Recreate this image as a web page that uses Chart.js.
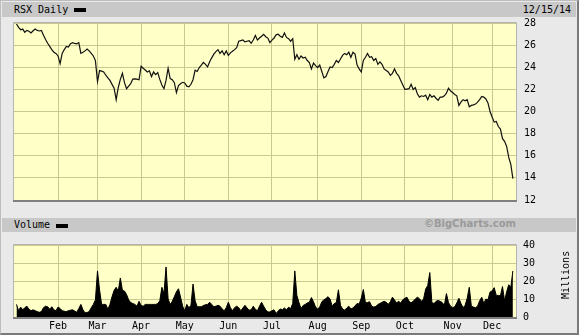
<!DOCTYPE html>
<html><head><meta charset="utf-8">
<script src="https://cdn.jsdelivr.net/npm/chart.js@4.4.1/dist/chart.umd.min.js"></script>
<style>
html,body{margin:0;padding:0;background:#e9e9e9;width:579px;height:335px;overflow:hidden;}
#frame{position:absolute;left:0;top:0;width:579px;height:335px;box-sizing:border-box;border-top:1px solid #bdbdbd;border-left:1px solid #bdbdbd;border-right:2px solid #7a7a7a;border-bottom:2px solid #7a7a7a;background:#e9e9e9;}
.band{position:absolute;left:2px;width:574px;background:#c8c8c8;}
.txt{position:absolute;font:10px "DejaVu Sans Mono",monospace;color:#000;white-space:nowrap;}
.sw{position:absolute;width:12px;height:4px;background:#000;}
canvas{position:absolute;left:0;}
</style></head>
<body>
<div id="frame"></div>
<div class="band" style="top:2px;height:15px;"></div>
<div class="band" style="top:218px;height:14px;"></div>
<div class="txt" style="left:14px;top:2px;line-height:15px;">RSX Daily</div>
<div class="sw" style="left:74px;top:8px;"></div>
<div class="txt" style="right:8px;top:2px;line-height:15px;">12/15/14</div>
<div class="txt" style="left:14px;top:218px;line-height:14px;">Volume</div>
<div class="sw" style="left:56px;top:224px;"></div>
<div style="position:absolute;right:63px;top:218px;line-height:14px;font:bold 10px 'DejaVu Sans',sans-serif;color:#9a9a9a;">©BigCharts.com</div>
<canvas id="pc" width="579" height="214" style="top:0;"></canvas>
<canvas id="vc" width="579" height="103" style="top:232px;"></canvas>
<div class="txt" style="left:542px;top:269px;width:48px;text-align:center;line-height:12px;transform:rotate(-90deg);transform-origin:24px 6px;">Millions</div>
<script>
// ---- data ----
const monthLabels = ['Jan','Feb','Mar','Apr','May','Jun','Jul','Aug','Sep','Oct','Nov','Dec'];
const monthStartIndex = [0,20,39,60,81,102,123,145,166,187,210,229];
const priceTicks = [12,14,16,18,20,22,24,26,28];
const volumeTicks = [0,10,20,30,40];
const priceClose = [
27.91,27.6,27.39,27.45,27.16,27.33,27.25,27.10,27.3,27.45,
27.33,27.28,27.33,26.9,26.5,26.17,25.89,25.6,25.36,25.25,
25.02,24.32,25.25,25.6,25.89,25.83,26.12,26.23,26.15,26.12,
26.23,25.25,25.35,25.48,25.65,25.48,25.25,25.02,24.6,22.70,
23.7,23.65,23.57,23.28,23.05,22.81,22.45,22.11,21.07,22.17,
22.9,23.45,22.61,22.06,22.29,22.52,22.93,22.95,22.93,22.87,
24.09,23.91,23.75,23.57,23.68,23.16,23.57,23.33,23.51,22.9,
22.4,22.06,22.81,23.91,22.98,22.87,22.6,21.71,22.35,22.5,
22.64,22.58,22.29,22.23,22.46,22.87,23.74,23.62,23.97,24.2,
24.43,24.26,24.03,24.49,24.85,25.19,25.42,25.59,25.25,25.48,
25.13,25.48,25.07,25.30,25.45,25.59,25.77,26.35,26.41,26.46,
26.29,26.35,26.41,26.17,26.46,26.87,26.46,26.64,26.8,26.98,
26.76,26.64,26.23,26.45,26.64,26.93,26.98,26.8,26.70,27.10,
26.70,26.58,26.35,26.58,24.72,25.13,24.72,25.02,24.84,24.90,
24.61,24.43,23.85,24.38,24.15,23.97,24.20,23.62,23.04,23.16,
23.62,24.03,23.97,24.26,24.61,24.43,24.75,25.07,25.25,25.13,
25.36,24.90,25.36,25.19,24.20,23.85,23.57,24.61,24.90,25.25,
24.90,24.96,24.61,24.78,24.26,24.49,24.26,23.85,23.7,23.57,
23.28,23.45,23.85,23.45,23.22,22.8,22.4,22.0,22.03,22.06,
22.46,22.00,22.17,21.6,21.30,21.42,21.36,21.48,21.07,21.54,
21.30,21.42,21.2,21.01,21.30,21.30,21.42,21.65,22.11,21.85,
21.71,21.54,21.42,20.55,20.84,21.07,20.96,21.07,20.43,20.55,
20.6,20.67,20.84,21.07,21.36,21.3,21.13,20.78,20.0,19.5,
19.04,19.10,18.64,18.41,17.54,17.30,16.84,15.85,15.22,13.94];
const volumeMillions = [
7,3.5,5.5,4,5.2,6,4.3,3.5,4,3.5,
3,2.6,3,5.2,6,5.7,4.3,5.7,4,3.5,
5.5,4.7,3.5,3.2,3,3.5,3.8,4,3.3,2.6,
4.7,7,4,2.3,2.5,3,5.2,7,9.5,25.6,
15,7,7,7,4.3,7,11.3,14.8,16.5,14.4,
21.7,14.8,14.4,12.5,9.5,8,7.5,7,6,8.7,
6.4,6,7,7,7,7,7,7,7.5,9,
16.5,13,27.8,10,7,8.7,11.3,14,15.7,11,
6,3.5,7,5.2,6.5,18.3,9,5.7,5.7,5.7,
6.4,6.8,7,8.2,7,5.7,6,6.5,6,4.5,
3.5,5.2,8.2,5.2,3.5,5.2,6,5.2,3.5,5,
6.5,5,3.8,4,6,4.3,3.5,6,8.2,6,
4,2.8,2.8,3.5,4,2,3.3,4.5,4,5,
4,5.4,4.7,7.5,25.6,12,8,4.7,6.4,7,
7.8,8.2,10.8,8.5,5.5,4.5,5.5,8.5,9.5,10.3,
11.3,9.9,6,7.5,8,15.1,6.5,4.5,3.8,5,
6,4.5,5,6.2,7.5,7.2,10.5,15.3,8,8,
8.5,6,5.5,5.8,7,7.5,8.2,8.7,8.2,7,
8.5,11,9.5,7.8,8.7,7.8,9.6,10.4,11,8.7,
7.9,8.7,10,11,10.2,8.7,10,15.5,17.5,24.7,
8,7.5,8.7,9.2,8.7,8,6.5,13,8,6,
5.2,5.7,7.8,10.4,7.5,5.2,6.5,10.4,16.5,6,
5.5,5.2,6,9,11,7.5,10,9.5,13.9,14.5,
16.3,12,12,11.8,16.9,9,14,17.9,16.5,25.6];

// ---- style ----
const GRID = '#c9c98f';
const BG = '#ffffc8';
const X_MIN = -1.2, X_MAX = 240.5;
Chart.defaults.font.family = "'DejaVu Sans Mono', monospace";
Chart.defaults.font.size = 10;
Chart.defaults.color = '#000';

const areaPlugin = {
  id:'area',
  beforeDraw(c){
    const a=c.chartArea, g=c.ctx;
    g.save(); g.fillStyle=BG; g.fillRect(a.left,a.top,a.right-a.left,a.bottom-a.top); g.restore();
  },
  afterDraw(c){
    const a=c.chartArea, g=c.ctx;
    g.save();
    g.strokeStyle='#b4b4b4'; g.lineWidth=1;
    g.beginPath();
    g.moveTo(a.left-0.5,a.bottom); g.lineTo(a.left-0.5,a.top-0.5); g.lineTo(a.right+0.5,a.top-0.5); g.lineTo(a.right+0.5,a.bottom);
    g.stroke();
    g.strokeStyle='#7f7f7f'; g.lineWidth=2;
    g.beginPath(); g.moveTo(a.left-1,a.bottom+1); g.lineTo(a.right+1,a.bottom+1); g.stroke();
    g.restore();
  }
};

const xPts = arr => arr.map((v,i)=>({x:i,y:v}));
const monthTicks = s => { s.ticks = monthStartIndex.slice(1).map(v=>({value:v})); };

new Chart(document.getElementById('pc'),{
  type:'line',
  data:{datasets:[{data:xPts(priceClose),borderColor:'#111',borderWidth:1.2,pointRadius:0,tension:0,fill:false}]},
  options:{
    responsive:false,animation:false,events:[],devicePixelRatio:1,
    layout:{padding:{left:14,top:23,right:0,bottom:7}},
    plugins:{legend:{display:false},tooltip:{enabled:false}},
    scales:{
      x:{type:'linear',min:X_MIN,max:X_MAX,afterBuildTicks:monthTicks,afterFit:s=>{s.height=0;},
         ticks:{display:false},grid:{color:GRID,drawTicks:false},border:{display:false}},
      y:{position:'right',min:12,max:28,afterBuildTicks:s=>{s.ticks=priceTicks.map(v=>({value:v}));},
         afterFit:s=>{s.width=63;},
         ticks:{padding:8,callback:v=>String(v)},grid:{color:GRID,drawTicks:false},border:{display:false}}
    }
  },
  plugins:[areaPlugin]
});

new Chart(document.getElementById('vc'),{
  type:'line',
  data:{datasets:[{data:xPts(volumeMillions),borderColor:'#000',backgroundColor:'#000',borderWidth:1,pointRadius:0,tension:0,fill:'origin'}]},
  options:{
    responsive:false,animation:false,events:[],devicePixelRatio:1,
    layout:{padding:{left:14,top:7,right:0,bottom:0}},
    plugins:{legend:{display:false},tooltip:{enabled:false}},
    scales:{
      x:{type:'linear',min:X_MIN,max:X_MAX,afterBuildTicks:monthTicks,afterFit:s=>{s.height=18;},
         ticks:{padding:3,autoSkip:false,maxRotation:0,callback:v=>monthLabels[monthStartIndex.indexOf(v)]},
         grid:{color:GRID,drawTicks:false},border:{display:false}},
      y:{position:'right',min:0,max:40,afterBuildTicks:s=>{s.ticks=volumeTicks.map(v=>({value:v}));},
         afterFit:s=>{s.width=63;},
         ticks:{padding:7,callback:v=>String(v)},grid:{color:GRID,drawTicks:false},border:{display:false}}
    }
  },
  plugins:[areaPlugin]
});
</script>
</body></html>
